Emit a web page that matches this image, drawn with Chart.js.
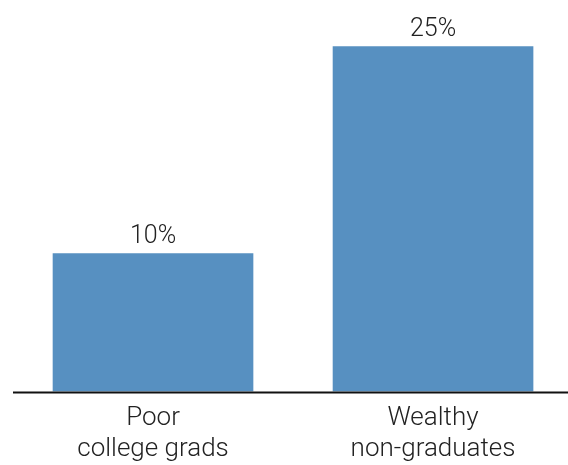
<!DOCTYPE html>
<html>
<head>
<meta charset="utf-8">
<script src="https://cdn.jsdelivr.net/npm/chart.js@4"></script>
<style>
  html, body { margin: 0; padding: 0; background: #fff; }
  #grafico { display: block; }
</style>
</head>
<body>
<canvas id="grafico" width="568" height="465"></canvas>
<script>
const categorias = [['Poor', 'college grads'], ['Wealthy', 'non-graduates']];
const valores = [10, 25];
const etiquetas = ['10%', '25%'];

const fuente = "Roboto, 'Liberation Sans', sans-serif";

// baseline across the whole width plus the percentage above each bar
const extras = {
  id: 'extras',
  afterDatasetsDraw(chart) {
    const ctx = chart.ctx;
    const y0 = chart.scales.y.getPixelForValue(0);
    ctx.save();
    ctx.strokeStyle = '#111';
    ctx.lineWidth = 2;
    ctx.beginPath();
    ctx.moveTo(13, y0 + 1);
    ctx.lineTo(chart.width, y0 + 1);
    ctx.stroke();

    ctx.fillStyle = '#222';
    ctx.font = '300 25px ' + fuente;
    ctx.textAlign = 'center';
    ctx.textBaseline = 'alphabetic';
    chart.getDatasetMeta(0).data.forEach((barra, i) => {
      ctx.fillText(etiquetas[i], barra.x, barra.y - 11);
    });
    ctx.restore();
  }
};

new Chart(document.getElementById('grafico'), {
  type: 'bar',
  data: {
    datasets: [{
      data: valores.map((v, i) => ({ x: i, y: v })),
      backgroundColor: '#5790c1',
      borderWidth: 0,
      barThickness: 200
    }]
  },
  options: {
    responsive: false,
    animation: false,
    layout: { padding: { left: 13, right: 0, top: 0, bottom: 2 } },
    plugins: { legend: { display: false }, tooltip: { enabled: false } },
    scales: {
      y: {
        display: false,
        min: 0,
        max: 28.37
      },
      x: {
        type: 'linear',
        offset: false,
        bounds: 'data',
        min: -0.5,
        max: 1.482,
        grid: { display: false, drawTicks: false },
        border: { display: false },
        afterBuildTicks(escala) {
          escala.ticks = categorias.map((_, i) => ({ value: i }));
        },
        afterFit(escala) { escala.height = 71.5; },
        ticks: {
          color: '#222',
          padding: 11,
          maxRotation: 0,
          autoSkip: false,
          callback: (v) => categorias[v],
          font: { family: fuente, size: 26, weight: '300', lineHeight: 1.2 }
        }
      }
    }
  },
  plugins: [extras]
});
</script>
</body>
</html>
